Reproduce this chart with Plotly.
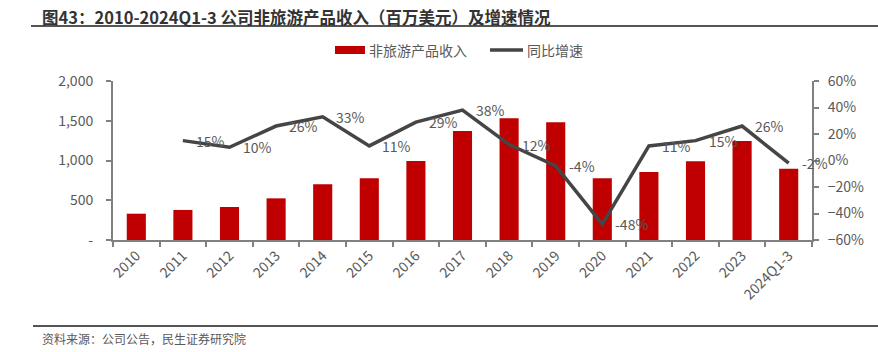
import plotly.graph_objects as go

categories = ["2010", "2011", "2012", "2013", "2014", "2015", "2016", "2017",
              "2018", "2019", "2020", "2021", "2022", "2023", "2024Q1-3"]
revenue = [331, 378, 415, 524, 700, 776, 994, 1371, 1531, 1480, 776, 855, 990, 1245, 897]
growth = [None, 0.15, 0.10, 0.26, 0.33, 0.11, 0.29, 0.38, 0.12, -0.04, -0.48, 0.11, 0.15, 0.26, -0.02]
growth_labels = ["", "15%", "10%", "26%", "33%", "11%", "29%", "38%", "12%", "-4%",
                 "-48%", "11%", "15%", "26%", "-2%"]
left_tickvals = [0, 500, 1000, 1500, 2000]
left_ticktext = ["-", "500", "1,000", "1,500", "2,000"]
right_tickvals = [-0.6, -0.4, -0.2, 0, 0.2, 0.4, 0.6]

title_text = "图43：2010-2024Q1-3 公司非旅游产品收入（百万美元）及增速情况"
source_text = "资料来源：公司公告，民生证券研究院"
bar_name = "非旅游产品收入"
line_name = "同比增速"

W, H = 878, 352
L, R, T, B = 113, 812, 81, 240
FONT = "Noto Sans CJK SC"
GREY = "#595959"
AXIS = "#808080"
RED = "#C00000"
LINE = "#454545"

def px(x):
    return (x - L) / (R - L)

def py(y):
    return (B - y) / (B - T)

fig = go.Figure()
fig.add_trace(go.Bar(x=categories, y=revenue, marker=dict(color=RED, line=dict(width=0)),
                     name=bar_name, showlegend=False))
fig.add_trace(go.Scatter(x=categories, y=growth, mode="lines", yaxis="y2",
                         line=dict(color=LINE, width=3.5), name=line_name,
                         showlegend=False, connectgaps=False))

annotations = []
for i, (g, t) in enumerate(zip(growth, growth_labels)):
    if g is None:
        continue
    annotations.append(dict(x=i, y=g, xref="x", yref="y2", text=t, showarrow=False,
                            xanchor="left", yanchor="middle", xshift=11,
                            font=dict(family=FONT, size=14, color=GREY)))

# title
annotations.append(dict(x=px(40), y=py(17), xref="paper", yref="paper", text="<b>" + title_text + "</b>",
                        showarrow=False, xanchor="left", yanchor="middle",
                        font=dict(family=FONT, size=16.5, color="#333333")))
# source
annotations.append(dict(x=px(40), y=py(338), xref="paper", yref="paper", text=source_text,
                        showarrow=False, xanchor="left", yanchor="middle",
                        font=dict(family=FONT, size=12, color=GREY)))
# legend texts
annotations.append(dict(x=px(367), y=py(50), xref="paper", yref="paper", text=bar_name,
                        showarrow=False, xanchor="left", yanchor="middle",
                        font=dict(family=FONT, size=14, color=GREY)))
annotations.append(dict(x=px(525), y=py(50), xref="paper", yref="paper", text=line_name,
                        showarrow=False, xanchor="left", yanchor="middle",
                        font=dict(family=FONT, size=14, color=GREY)))

shapes = [
    dict(type="line", xref="paper", yref="paper", x0=px(31), x1=px(878), y0=py(26), y1=py(26),
         line=dict(color="#555555", width=2)),
    dict(type="line", xref="paper", yref="paper", x0=px(33), x1=px(878), y0=py(326), y1=py(326),
         line=dict(color="#555555", width=2)),
    dict(type="rect", xref="paper", yref="paper", x0=px(335), x1=px(365), y0=py(46), y1=py(54),
         fillcolor=RED, line=dict(width=0)),
    dict(type="line", xref="paper", yref="paper", x0=px(490), x1=px(523), y0=py(50), y1=py(50),
         line=dict(color=LINE, width=3.5)),
]

fig.update_layout(
    width=W, height=H,
    margin=dict(l=L, r=W - R, t=T, b=H - B, pad=0),
    paper_bgcolor="white", plot_bgcolor="white",
    bargap=0.59,
    font=dict(family=FONT, size=14, color=GREY),
    annotations=annotations, shapes=shapes,
    showlegend=False,
    xaxis=dict(type="category", categoryorder="array", categoryarray=categories,
               range=[-0.5, len(categories) - 0.5], autorange=False,
               showline=True, linecolor=AXIS, linewidth=2,
               ticks="outside", ticklen=5, tickcolor=AXIS, tickwidth=1.5,
               tickson="boundaries", tickangle=-45, showgrid=False,
               tickfont=dict(family=FONT, size=14, color=GREY)),
    yaxis=dict(range=[0, 2000], autorange=False, tickvals=left_tickvals, ticktext=left_ticktext,
               showline=True, linecolor=AXIS, linewidth=2, ticks="outside", ticklen=5,
               tickcolor=AXIS, tickwidth=1.5, showgrid=False, zeroline=False,
               ticklabelstandoff=10,
               tickfont=dict(family=FONT, size=14, color=GREY)),
    yaxis2=dict(range=[-0.6, 0.6], autorange=False, tickvals=right_tickvals, tickformat=".0%",
                overlaying="y", side="right", showline=True, linecolor=AXIS, linewidth=2,
                ticks="outside", ticklen=5, tickcolor=AXIS, tickwidth=1.5,
                showgrid=False, zeroline=False, ticklabelstandoff=6,
                tickfont=dict(family=FONT, size=14, color=GREY)),
)

fig.write_html("out.html")
